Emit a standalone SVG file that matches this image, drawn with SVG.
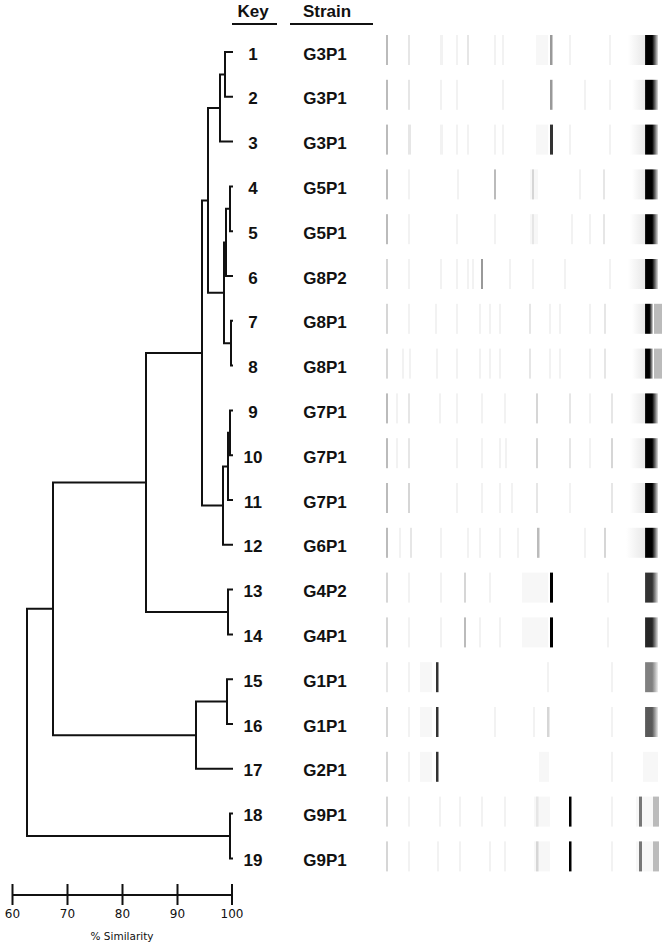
<svg xmlns="http://www.w3.org/2000/svg" width="666" height="946" viewBox="0 0 666 946">
<defs>
<linearGradient id="gBig" x1="0" y1="0" x2="1" y2="0">
<stop offset="0" stop-color="#222"/><stop offset="0.12" stop-color="#000"/><stop offset="0.55" stop-color="#000"/><stop offset="0.8" stop-color="#777"/><stop offset="1" stop-color="#ddd"/>
</linearGradient>
<linearGradient id="gPre" x1="0" y1="0" x2="1" y2="0">
<stop offset="0" stop-color="#fff"/><stop offset="1" stop-color="#e8e8e8"/>
</linearGradient>
<style>
.lbl{font-family:"Liberation Sans",Arial,sans-serif;font-weight:bold;font-size:17px;fill:#111;text-anchor:middle}
.ax{font-family:"DejaVu Sans",sans-serif;font-size:12px;fill:#111;text-anchor:middle}
.ln{fill:none;stroke:#111;stroke-width:2}
.b0{fill:#000}.b1{fill:#333}.b2{fill:#999}.b3{fill:#bbb}.b4{fill:#d6d6d6}.b5{fill:#e6e6e6}.b6{fill:#f2f2f2}.b7{fill:#f7f7f7}
.big{fill:url(#gBig)}.pre{fill:url(#gPre)}
</style>
</defs>
<rect width="666" height="946" fill="#fff"/>

<g id="header">
<text class="lbl" x="253" y="17">Key</text>
<text class="lbl" x="327" y="17">Strain</text>
<line class="ln" x1="232" y1="24" x2="277" y2="24"/>
<line class="ln" x1="290" y1="24" x2="373" y2="24"/>
</g>

<g id="connectors" class="ln">
<path d="M233,52 H225 V96.8 H233"/>
<path d="M225,74.4 H220 V141.6 H233"/>
<path d="M233,186.4 H230 V231.2 H233"/>
<path d="M230,208.8 H226 V276 H233"/>
<path d="M233,320.8 H231 V365.6 H233"/>
<path d="M226,242.4 H224 V343.2 H231"/>
<path d="M220,108 H208 V292.8 H224"/>
<path d="M233,410.4 H230 V455.2 H233"/>
<path d="M230,432.8 H228 V500 H233"/>
<path d="M228,466.4 H223 V544.8 H233"/>
<path d="M208,200.4 H202 V505.6 H223"/>
<path d="M233,589.6 H228 V634.4 H233"/>
<path d="M202,353 H146 V612 H228"/>
<path d="M233,679.2 H227 V724 H233"/>
<path d="M227,701.6 H196 V768.8 H233"/>
<path d="M146,482.5 H53 V735.2 H196"/>
<path d="M233,813.6 H230 V858.4 H233"/>
<path d="M53,608.85 H27 V836 H230"/>
</g>

<g id="row1"><text class="lbl" x="253" y="59.5">1</text><text class="lbl" x="325" y="59.5">G3P1</text>
<g transform="translate(0,35)"><rect class="b3" x="386" width="2" height="30"/><rect class="b5" x="408" width="2" height="30"/><rect class="b6" x="440" width="3" height="30"/><rect class="b6" x="456" width="2" height="30"/><rect class="b5" x="467" width="2" height="30"/><rect class="b6" x="494" width="2" height="30"/><rect class="b6" x="502" width="2" height="30"/><rect class="b7" x="536" width="12" height="30"/><rect class="b2" x="550" width="2.5" height="30"/><rect class="b6" x="569" width="2" height="30"/><rect class="b6" x="609" width="2" height="30"/><rect class="pre" x="628" width="17" height="30"/><rect class="big" x="645" width="13" height="30"/></g></g>

<g id="row2"><text class="lbl" x="253" y="104.3">2</text><text class="lbl" x="325" y="104.3">G3P1</text>
<g transform="translate(0,79.8)"><rect class="b3" x="386" width="2" height="30"/><rect class="b5" x="408" width="2" height="30"/><rect class="b6" x="440" width="2" height="30"/><rect class="b6" x="456" width="2" height="30"/><rect class="b6" x="502" width="2" height="30"/><rect class="b2" x="550" width="2.5" height="30"/><rect class="b6" x="584" width="2" height="30"/><rect class="b6" x="609" width="2" height="30"/><rect class="pre" x="632" width="13" height="30"/><rect class="big" x="645" width="13" height="30"/></g></g>

<g id="row3"><text class="lbl" x="253" y="149.1">3</text><text class="lbl" x="325" y="149.1">G3P1</text>
<g transform="translate(0,124.6)"><rect class="b3" x="386" width="2" height="30"/><rect class="b5" x="408" width="3" height="30"/><rect class="b6" x="440" width="3" height="30"/><rect class="b6" x="456" width="2" height="30"/><rect class="b6" x="467" width="2" height="30"/><rect class="b6" x="494" width="2" height="30"/><rect class="b6" x="502" width="2" height="30"/><rect class="b7" x="536" width="12" height="30"/><rect class="b1" x="550" width="3" height="30"/><rect class="b6" x="569" width="2" height="30"/><rect class="b6" x="609" width="2" height="30"/><rect class="pre" x="630" width="15" height="30"/><rect class="big" x="645" width="13" height="30"/></g></g>

<g id="row4"><text class="lbl" x="253" y="193.9">4</text><text class="lbl" x="325" y="193.9">G5P1</text>
<g transform="translate(0,169.4)"><rect class="b3" x="386" width="2" height="30"/><rect class="b6" x="408" width="2" height="30"/><rect class="b6" x="457" width="2" height="30"/><rect class="b3" x="494" width="2" height="30"/><rect class="b7" x="530" width="8" height="30"/><rect class="b4" x="532" width="2" height="30"/><rect class="b6" x="579" width="2" height="30"/><rect class="b5" x="603" width="2" height="30"/><rect class="pre" x="632" width="13" height="30"/><rect class="big" x="645" width="13" height="30"/></g></g>

<g id="row5"><text class="lbl" x="253" y="238.7">5</text><text class="lbl" x="325" y="238.7">G5P1</text>
<g transform="translate(0,214.2)"><rect class="b3" x="386" width="2" height="30"/><rect class="b6" x="408" width="2" height="30"/><rect class="b6" x="456" width="2" height="30"/><rect class="b6" x="494" width="2" height="30"/><rect class="b7" x="530" width="8" height="30"/><rect class="b5" x="532" width="2" height="30"/><rect class="b6" x="571" width="2" height="30"/><rect class="b6" x="589" width="2" height="30"/><rect class="b5" x="603" width="2" height="30"/><rect class="pre" x="630" width="15" height="30"/><rect class="big" x="645" width="13" height="30"/></g></g>

<g id="row6"><text class="lbl" x="253" y="283.5">6</text><text class="lbl" x="325" y="283.5">G8P2</text>
<g transform="translate(0,259)"><rect class="b4" x="386" width="2" height="30"/><rect class="b6" x="408" width="2" height="30"/><rect class="b6" x="440" width="2" height="30"/><rect class="b6" x="456" width="2" height="30"/><rect class="b6" x="467" width="2" height="30"/><rect class="b6" x="472" width="2" height="30"/><rect class="b2" x="481" width="2" height="30"/><rect class="b6" x="509" width="2" height="30"/><rect class="b6" x="532" width="2" height="30"/><rect class="b6" x="564" width="2" height="30"/><rect class="b6" x="609" width="2" height="30"/><rect class="pre" x="628" width="17" height="30"/><rect class="big" x="645" width="13" height="30"/></g></g>

<g id="row7"><text class="lbl" x="253" y="328.3">7</text><text class="lbl" x="325" y="328.3">G8P1</text>
<g transform="translate(0,303.8)"><rect class="b4" x="386" width="2" height="30"/><rect class="b6" x="408" width="2" height="30"/><rect class="b6" x="435" width="2" height="30"/><rect class="b6" x="456" width="2" height="30"/><rect class="b6" x="479" width="2" height="30"/><rect class="b6" x="489" width="2" height="30"/><rect class="b6" x="499" width="2" height="30"/><rect class="b5" x="529" width="2" height="30"/><rect class="b6" x="549" width="2" height="30"/><rect class="b6" x="559" width="2" height="30"/><rect class="b6" x="589" width="2" height="30"/><rect class="b5" x="604" width="2" height="30"/><rect class="pre" x="632" width="13" height="30"/><rect class="big" x="645" width="8" height="30"/><rect class="b3" x="654" width="8" height="30"/></g></g>

<g id="row8"><text class="lbl" x="253" y="373.1">8</text><text class="lbl" x="325" y="373.1">G8P1</text>
<g transform="translate(0,348.6)"><rect class="b4" x="386" width="2" height="30"/><rect class="b6" x="402" width="2" height="30"/><rect class="b6" x="409" width="2" height="30"/><rect class="b6" x="436" width="2" height="30"/><rect class="b6" x="456" width="2" height="30"/><rect class="b6" x="479" width="2" height="30"/><rect class="b6" x="489" width="2" height="30"/><rect class="b6" x="499" width="2" height="30"/><rect class="b5" x="529" width="2" height="30"/><rect class="b6" x="549" width="2" height="30"/><rect class="b6" x="559" width="2" height="30"/><rect class="b6" x="589" width="2" height="30"/><rect class="b5" x="604" width="2" height="30"/><rect class="pre" x="632" width="13" height="30"/><rect class="big" x="645" width="8" height="30"/><rect class="b3" x="654" width="8" height="30"/></g></g>

<g id="row9"><text class="lbl" x="253" y="417.9">9</text><text class="lbl" x="325" y="417.9">G7P1</text>
<g transform="translate(0,393.4)"><rect class="b3" x="386" width="2" height="30"/><rect class="b6" x="396" width="2" height="30"/><rect class="b5" x="408" width="2" height="30"/><rect class="b6" x="439" width="2" height="30"/><rect class="b6" x="456" width="2" height="30"/><rect class="b6" x="481" width="2" height="30"/><rect class="b6" x="504" width="2" height="30"/><rect class="b4" x="536" width="2" height="30"/><rect class="b5" x="569" width="2" height="30"/><rect class="b6" x="589" width="2" height="30"/><rect class="b5" x="611" width="2" height="30"/><rect class="pre" x="630" width="15" height="30"/><rect class="big" x="645" width="13" height="30"/></g></g>

<g id="row10"><text class="lbl" x="253" y="462.7">10</text><text class="lbl" x="325" y="462.7">G7P1</text>
<g transform="translate(0,438.2)"><rect class="b3" x="386" width="2" height="30"/><rect class="b6" x="396" width="2" height="30"/><rect class="b5" x="408" width="2" height="30"/><rect class="b6" x="456" width="2" height="30"/><rect class="b6" x="481" width="2" height="30"/><rect class="b6" x="499" width="2" height="30"/><rect class="b6" x="505" width="2" height="30"/><rect class="b4" x="536" width="2" height="30"/><rect class="b5" x="569" width="2" height="30"/><rect class="b6" x="589" width="2" height="30"/><rect class="b4" x="611" width="2" height="30"/><rect class="pre" x="630" width="15" height="30"/><rect class="big" x="645" width="13" height="30"/></g></g>

<g id="row11"><text class="lbl" x="253" y="507.5">11</text><text class="lbl" x="325" y="507.5">G7P1</text>
<g transform="translate(0,483)"><rect class="b3" x="386" width="2" height="30"/><rect class="b4" x="408" width="2" height="30"/><rect class="b6" x="456" width="2" height="30"/><rect class="b6" x="481" width="2" height="30"/><rect class="b6" x="499" width="2" height="30"/><rect class="b6" x="511" width="2" height="30"/><rect class="b5" x="536" width="2" height="30"/><rect class="b6" x="569" width="2" height="30"/><rect class="b5" x="611" width="2" height="30"/><rect class="pre" x="630" width="15" height="30"/><rect class="big" x="645" width="13" height="30"/></g></g>

<g id="row12"><text class="lbl" x="253" y="552.3">12</text><text class="lbl" x="325" y="552.3">G6P1</text>
<g transform="translate(0,527.8)"><rect class="b3" x="386" width="2" height="30"/><rect class="b6" x="399" width="2" height="30"/><rect class="b5" x="410" width="2" height="30"/><rect class="b6" x="440" width="2" height="30"/><rect class="b6" x="467" width="2" height="30"/><rect class="b6" x="479" width="2" height="30"/><rect class="b6" x="499" width="2" height="30"/><rect class="b6" x="517" width="2" height="30"/><rect class="b3" x="537" width="2.5" height="30"/><rect class="b6" x="584" width="2" height="30"/><rect class="b4" x="604" width="2" height="30"/><rect class="pre" x="626" width="19" height="30"/><rect class="big" x="645" width="13" height="30"/></g></g>

<g id="row13"><text class="lbl" x="253" y="597.1">13</text><text class="lbl" x="325" y="597.1">G4P2</text>
<g transform="translate(0,572.6)"><rect class="b4" x="386" width="2" height="30"/><rect class="b6" x="408" width="2" height="30"/><rect class="b6" x="440" width="2" height="30"/><rect class="b4" x="464" width="2" height="30"/><rect class="b6" x="489" width="2" height="30"/><rect class="b7" x="522" width="26" height="30"/><rect class="b0" x="550" width="3" height="30"/><rect class="b6" x="607" width="2" height="30"/><rect class="big" x="645" width="13" height="30" opacity="0.8"/></g></g>

<g id="row14"><text class="lbl" x="253" y="641.9">14</text><text class="lbl" x="325" y="641.9">G4P1</text>
<g transform="translate(0,617.4)"><rect class="b4" x="386" width="2" height="30"/><rect class="b6" x="408" width="2" height="30"/><rect class="b6" x="440" width="2" height="30"/><rect class="b3" x="464" width="2" height="30"/><rect class="b6" x="479" width="2" height="30"/><rect class="b6" x="499" width="2" height="30"/><rect class="b7" x="522" width="26" height="30"/><rect class="b0" x="550" width="3" height="30"/><rect class="b6" x="607" width="2" height="30"/><rect class="big" x="645" width="13" height="30" opacity="0.85"/></g></g>

<g id="row15"><text class="lbl" x="253" y="686.7">15</text><text class="lbl" x="325" y="686.7">G1P1</text>
<g transform="translate(0,662.2)"><rect class="b5" x="386" width="2" height="30"/><rect class="b6" x="408" width="2" height="30"/><rect class="b7" x="420" width="12" height="30"/><rect class="b1" x="436" width="2.5" height="30"/><rect class="b6" x="547" width="2" height="30"/><rect class="b6" x="611" width="2" height="30"/><rect class="big" x="645" width="13" height="30" opacity="0.5"/></g></g>

<g id="row16"><text class="lbl" x="253" y="731.5">16</text><text class="lbl" x="325" y="731.5">G1P1</text>
<g transform="translate(0,707)"><rect class="b4" x="386" width="2" height="30"/><rect class="b6" x="408" width="2" height="30"/><rect class="b7" x="420" width="12" height="30"/><rect class="b1" x="436" width="2.5" height="30"/><rect class="b6" x="494" width="2" height="30"/><rect class="b6" x="533" width="2" height="30"/><rect class="b4" x="547" width="2.5" height="30"/><rect class="b6" x="611" width="2" height="30"/><rect class="big" x="645" width="13" height="30" opacity="0.65"/></g></g>

<g id="row17"><text class="lbl" x="253" y="776.3">17</text><text class="lbl" x="325" y="776.3">G2P1</text>
<g transform="translate(0,751.8)"><rect class="b4" x="386" width="2" height="30"/><rect class="b6" x="408" width="2" height="30"/><rect class="b7" x="420" width="12" height="30"/><rect class="b1" x="436" width="2.5" height="30"/><rect class="b7" x="539" width="10" height="30"/><rect class="b6" x="611" width="2" height="30"/><rect class="b7" x="643" width="15" height="30"/></g></g>

<g id="row18"><text class="lbl" x="253" y="821.1">18</text><text class="lbl" x="325" y="821.1">G9P1</text>
<g transform="translate(0,796.6)"><rect class="b4" x="386" width="2" height="30"/><rect class="b6" x="408" width="2" height="30"/><rect class="b6" x="439" width="2" height="30"/><rect class="b6" x="459" width="2" height="30"/><rect class="b6" x="481" width="2" height="30"/><rect class="b6" x="504" width="2" height="30"/><rect class="b7" x="534" width="16" height="30"/><rect class="b5" x="536" width="2.5" height="30"/><rect class="b0" x="569" width="2.5" height="30"/><rect class="b6" x="611" width="2" height="30"/><rect class="b7" x="636" width="22" height="30"/><rect x="639" width="3" height="30" fill="#777"/><rect class="b3" x="653" width="6" height="30"/></g></g>

<g id="row19"><text class="lbl" x="253" y="865.9">19</text><text class="lbl" x="325" y="865.9">G9P1</text>
<g transform="translate(0,841.4)"><rect class="b4" x="386" width="2" height="30"/><rect class="b6" x="408" width="2" height="30"/><rect class="b6" x="437" width="2" height="30"/><rect class="b6" x="459" width="2" height="30"/><rect class="b6" x="489" width="2" height="30"/><rect class="b6" x="504" width="2" height="30"/><rect class="b7" x="534" width="16" height="30"/><rect class="b4" x="536" width="2.5" height="30"/><rect class="b0" x="569" width="2.5" height="30"/><rect class="b6" x="611" width="2" height="30"/><rect class="b7" x="636" width="22" height="30"/><rect x="639" width="3" height="30" fill="#777"/><rect class="b3" x="653" width="6" height="30"/></g></g>

<g id="scale">
<path class="ln" d="M12.5,895 H232 M12.5,884 V905 M67.5,884 V905 M122.5,884 V905 M177.5,884 V905 M232,884 V905"/>
<text class="ax" x="12.5" y="918">60</text>
<text class="ax" x="67.5" y="918">70</text>
<text class="ax" x="122.5" y="918">80</text>
<text class="ax" x="177.5" y="918">90</text>
<text class="ax" x="232" y="918">100</text>
<text class="ax" x="122" y="940" style="font-size:10.5px">% Similarity</text>
</g>
</svg>
